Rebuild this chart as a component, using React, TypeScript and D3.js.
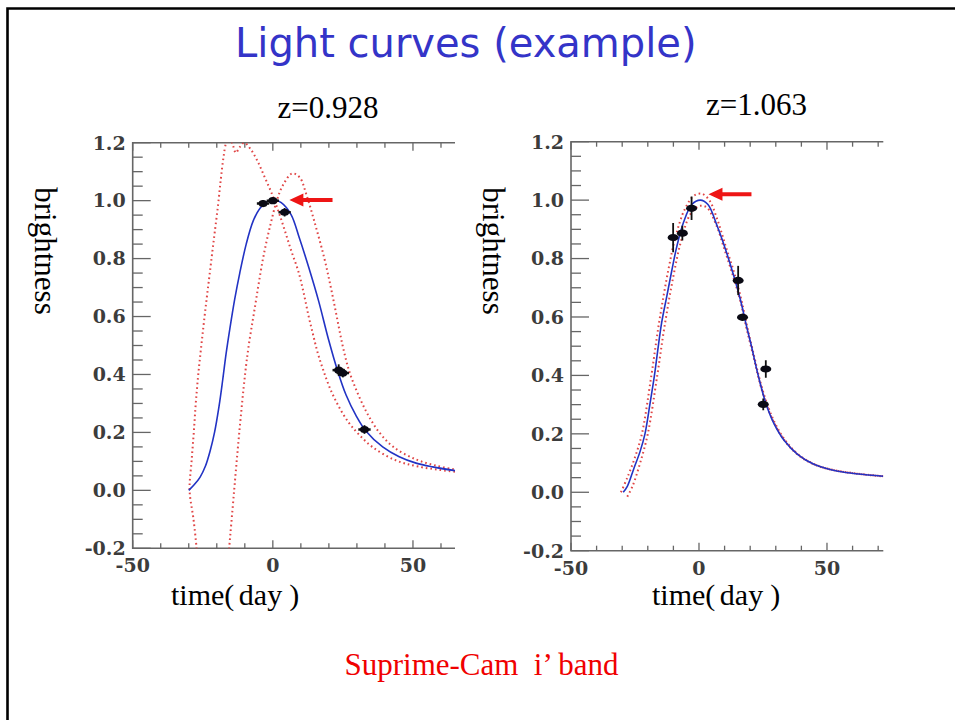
import React from "react";
import * as d3 from "d3";

// ---------- data (time in days, brightness normalised) ----------
// z = 0.928 panel
const P1_FIT: [number, number][] = [
  [-30, 0], [-28, 0.02], [-26, 0.045], [-24, 0.085], [-22.4, 0.135], [-20.8, 0.2],
  [-19.2, 0.29], [-17.9, 0.38], [-16.7, 0.47], [-15.3, 0.56], [-13.6, 0.66], [-11.8, 0.75],
  [-9.5, 0.85], [-7, 0.93], [-4.5, 0.975], [-2, 0.997], [0.3, 1.003], [3, 0.993],
  [6.5, 0.952], [9.5, 0.87], [12.8, 0.77], [16.3, 0.655], [19.9, 0.52], [23.2, 0.41],
  [26.1, 0.33], [29.7, 0.258], [33.2, 0.205], [39.2, 0.15], [45.1, 0.116], [51.1, 0.094],
  [57, 0.081], [65, 0.068],
];
const P1_BOUND_EARLY: [number, number][] = [
  [-26.8, -0.25], [-27.2, -0.2], [-28.3, -0.1], [-29.7, 0.0], [-29.0, 0.1], [-28.2, 0.2],
  [-27.5, 0.3], [-26.6, 0.4], [-25.4, 0.51], [-24, 0.63], [-22.5, 0.75], [-21, 0.87],
  [-19.6, 0.98], [-18.6, 1.07], [-17.6, 1.15], [-16.6, 1.2], [-15.4, 1.215], [-14.2, 1.19],
  [-13.2, 1.165], [-11.8, 1.185], [-10.2, 1.2], [-7.8, 1.176], [-5.4, 1.135], [-3, 1.083],
  [-0.6, 1.03], [1.9, 0.966], [4.3, 0.896], [6.6, 0.826], [9.1, 0.756], [10.9, 0.686],
  [12.7, 0.604], [14.3, 0.54], [16, 0.475], [18, 0.415], [20.5, 0.35], [23.5, 0.29],
  [27, 0.235], [30.5, 0.195], [35.5, 0.15], [43.5, 0.105], [52, 0.082], [65, 0.064],
];
const P1_BOUND_LATE: [number, number][] = [
  [-16.1, -0.25], [-15.6, -0.2], [-13.8, 0.0], [-12, 0.197], [-9.9, 0.401], [-8.6, 0.5],
  [-6.6, 0.62], [-3.5, 0.8], [-1.2, 0.903], [1.5, 1.003], [3.6, 1.053], [6.9, 1.094],
  [9.6, 1.08], [12, 1.02], [15.2, 0.915], [18.4, 0.8], [20.7, 0.7], [22.8, 0.6],
  [24.9, 0.5], [27.3, 0.41], [30.5, 0.33], [34, 0.26], [38, 0.2], [43, 0.15], [51, 0.107],
  [58.4, 0.085], [65, 0.072],
];
const P1_OBS_T = [-3.5, 0, 4.2, 23.5, 25, 32.7];
const P1_OBS_B = [0.99, 1.0, 0.96, 0.415, 0.405, 0.21];
const P1_OBS_ERR = [0.012, 0.012, 0.015, 0.02, 0.015, 0.015];

// z = 1.063 panel
const P2_FIT: [number, number][] = [
  [-29.6, 0], [-28, 0.02], [-25.5, 0.08], [-23, 0.14], [-21.1, 0.2], [-19.2, 0.3], [-17.4, 0.4],
  [-16.2, 0.48], [-14.6, 0.58], [-12.6, 0.67], [-10.6, 0.76], [-8.7, 0.84], [-6, 0.925],
  [-2.8, 0.985], [0.5, 1.0], [3.5, 0.985], [7, 0.914], [10.3, 0.833], [13.6, 0.74],
  [16.2, 0.658], [18.8, 0.56], [20.5, 0.5], [22.3, 0.43], [24, 0.37], [26.1, 0.305],
  [29.3, 0.235], [33.3, 0.177], [38.5, 0.13], [45.1, 0.095], [54.3, 0.072], [72, 0.055],
];
const P2_BOUND_UPPER: [number, number][] = [
  [-30.5, 0], [-28, 0.05], [-25, 0.12], [-22.3, 0.2], [-18.6, 0.4], [-15.6, 0.58],
  [-12, 0.76], [-9, 0.88], [-5.5, 0.97], [-2, 1.015], [1, 1.022], [4, 1.0], [7.3, 0.93],
  [10.5, 0.84], [13.8, 0.75], [16.5, 0.66], [19, 0.56], [21.7, 0.46], [23.6, 0.39],
  [26.3, 0.31], [29.5, 0.24], [33.5, 0.18], [38.7, 0.13], [45.3, 0.095], [54.5, 0.073], [72, 0.055],
];
const P2_BOUND_LOWER: [number, number][] = [
  [-28, -0.015], [-26, 0.02], [-23, 0.1], [-20, 0.2], [-16.3, 0.4], [-13.6, 0.56],
  [-10, 0.74], [-7, 0.86], [-3.5, 0.95], [0, 0.98], [3, 0.975], [6.5, 0.92], [10, 0.83],
  [13.3, 0.74], [16, 0.66], [18.6, 0.56], [21.4, 0.46], [23.3, 0.39], [26, 0.31],
  [29.2, 0.24], [33.2, 0.18], [38.4, 0.13], [45, 0.095], [54, 0.073], [72, 0.054],
];
const P2_OBS_T = [-10.1, -6.5, -2.9, 15.3, 17.0, 26.1, 25.1];
const P2_OBS_B = [0.872, 0.887, 0.972, 0.725, 0.599, 0.422, 0.301];
const P2_OBS_ERR = [0.05, 0.025, 0.04, 0.05, 0.012, 0.03, 0.02];

// peak-marker arrows: [tipT, tipB, tailT]
const P1_ARROW = [5.9, 1.002, 21.3];
const P2_ARROW = [3.7, 1.02, 20.5];

const Y_TICK_LABELS = ["-0.2", "0.0", "0.2", "0.4", "0.6", "0.8", "1.0", "1.2"];
const X_TICK_LABELS = ["-50", "0", "50"];
const PANEL_TITLES = ["z=0.928", "z=1.063"];
const TITLE = "Light curves (example)";
const FOOTNOTE = "Suprime-Cam  i\u2019 band";

// ---------- drawing ----------
type Panel = {
  id: string;
  x0: number; x1: number; y0: number; y1: number; // pixel box
  tMax: number;
  fit: [number, number][];
  bounds: [number, number][][];
  obsT: number[]; obsB: number[]; obsErr: number[];
  arrow: number[];
  dotRx: number;
  hbar: number;
};

const AXIS = "#666";
const LABEL = "#3c3c3c";
const BLUE = "#2233c4";
const RED_DOT = "#e04545";

function PanelView({ p }: { p: Panel }) {
  const x = d3.scaleLinear().domain([-50, p.tMax]).range([p.x0, p.x1]);
  const y = d3.scaleLinear().domain([-0.2, 1.2]).range([p.y1, p.y0]);
  const line = d3
    .line<[number, number]>()
    .x((d) => x(d[0]))
    .y((d) => y(d[1]))
    .curve(d3.curveCatmullRom.alpha(0.5));

  const xTicks = d3.range(-50, p.tMax + 0.001, 10);
  const yTicks = d3.range(-0.2, 1.2001, 0.05).map((v) => Math.round(v * 100) / 100);
  const isMajorY = (v: number) => Math.abs(Math.round(v * 10) % 2) === 0 && Math.abs(v * 10 - Math.round(v * 10)) < 1e-6;

  const [tipT, tipB, tailT] = p.arrow;
  const ax = x(tipT), ay = y(tipB), tx = x(tailT);

  return (
    <g>
      <defs>
        <clipPath id={"clip-" + p.id}>
          <rect x={p.x0} y={p.y0} width={p.x1 - p.x0} height={p.y1 - p.y0} />
        </clipPath>
      </defs>
      {/* axes lines: top, left, bottom */}
      <path
        d={`M${p.x1},${p.y0}H${p.x0}V${p.y1}H${p.x1}`}
        fill="none"
        stroke={AXIS}
        strokeWidth={1.6}
      />
      {xTicks.map((t) => {
        const major = t % 50 === 0;
        const len = major ? 8 : 5;
        return (
          <g key={"xt" + t} stroke={AXIS} strokeWidth={1.3}>
            <line x1={x(t)} x2={x(t)} y1={p.y1} y2={p.y1 - len} />
            <line x1={x(t)} x2={x(t)} y1={p.y0} y2={p.y0 + len} />
          </g>
        );
      })}
      {yTicks.map((v) => {
        const major = isMajorY(v);
        const len = major ? 18 : 10;
        return (
          <line
            key={"yt" + v}
            x1={p.x0}
            x2={p.x0 + len}
            y1={y(v)}
            y2={y(v)}
            stroke={AXIS}
            strokeWidth={1.3}
          />
        );
      })}
      {Y_TICK_LABELS.map((s) => (
        <text
          key={"yl" + s}
          x={p.x0 - 7}
          y={y(parseFloat(s))}
          dy="0.36em"
          textAnchor="end"
          fontFamily="DejaVu Serif"
          fontWeight="bold"
          fontSize={19}
          fill={LABEL}
        >
          {s}
        </text>
      ))}
      {X_TICK_LABELS.map((s) => (
        <text
          key={"xl" + s}
          x={x(parseFloat(s))}
          y={p.y1 + 24}
          textAnchor="middle"
          fontFamily="DejaVu Serif"
          fontWeight="bold"
          fontSize={19}
          fill={LABEL}
        >
          {s}
        </text>
      ))}
      <g clipPath={`url(#clip-${p.id})`}>
        {p.bounds.map((b, i) => (
          <path
            key={"b" + i}
            d={line(b) || ""}
            fill="none"
            stroke={RED_DOT}
            strokeWidth={2}
            strokeDasharray="1.6 3"
          />
        ))}
        <path d={line(p.fit) || ""} fill="none" stroke={BLUE} strokeWidth={1.6} />
        {p.obsT.map((t, i) => (
          <g key={"o" + i}>
            <line
              x1={x(t)}
              x2={x(t)}
              y1={y(p.obsB[i] - p.obsErr[i])}
              y2={y(p.obsB[i] + p.obsErr[i])}
              stroke="#111"
              strokeWidth={1.8}
            />
            <line
              x1={x(t - p.hbar)}
              x2={x(t + p.hbar)}
              y1={y(p.obsB[i])}
              y2={y(p.obsB[i])}
              stroke="#111"
              strokeWidth={2.5}
            />
            <ellipse cx={x(t)} cy={y(p.obsB[i])} rx={p.dotRx} ry={3.6} fill="#0a0a14" />
          </g>
        ))}
      </g>
      <path
        d={`M${ax},${ay}L${ax + 14},${ay - 6.5}L${ax + 14},${ay - 2}L${tx},${ay - 2}L${tx},${ay + 2}L${ax + 14},${ay + 2}L${ax + 14},${ay + 6.5}Z`}
        fill="#ee1515"
      />
    </g>
  );
}

export default function App() {
  const panels: Panel[] = [
    {
      id: "p1", x0: 132.7, x1: 455, y0: 142.7, y1: 548.3, tMax: 65,
      fit: P1_FIT, bounds: [P1_BOUND_EARLY, P1_BOUND_LATE],
      obsT: P1_OBS_T, obsB: P1_OBS_B, obsErr: P1_OBS_ERR, arrow: P1_ARROW, dotRx: 4.5, hbar: 2.2,
    },
    {
      id: "p2", x0: 571, x1: 883.3, y0: 141.7, y1: 550.7, tMax: 72,
      fit: P2_FIT, bounds: [P2_BOUND_UPPER, P2_BOUND_LOWER],
      obsT: P2_OBS_T, obsB: P2_OBS_B, obsErr: P2_OBS_ERR, arrow: P2_ARROW, dotRx: 5.5, hbar: 0,
    },
  ];

  return (
    <svg
      width={955}
      height={720}
      style={{ position: "absolute", left: 0, top: 0, background: "#fff" }}
    >
      <rect x={0} y={0} width={955} height={720} fill="#fff" />
      <path d="M7.5,720V8.5H955" fill="none" stroke="#000" strokeWidth={2.6} />
      <text x={235} y={57} fontFamily="DejaVu Sans" fontSize={40} fill="#3434c8">
        {TITLE}
      </text>
      <text x={328} y={118} textAnchor="middle" fontFamily="Liberation Serif" fontSize={31} fill="#000">
        {PANEL_TITLES[0]}
      </text>
      <text x={756.5} y={115} textAnchor="middle" fontFamily="Liberation Serif" fontSize={31} fill="#000">
        {PANEL_TITLES[1]}
      </text>
      {[35, 483].map((bx, i) => (
        <text
          key={"yl" + i}
          transform={`translate(${bx},251) rotate(90)`}
          textAnchor="middle"
          fontFamily="Liberation Serif"
          fontSize={31}
          fill="#000"
        >
          brightness
        </text>
      ))}
      {[171, 652].map((lx, i) => (
        <text key={"xl" + i} x={lx} y={605} fontFamily="Liberation Serif" fontSize={30} fill="#000">
          time<tspan>(</tspan>
          <tspan dx={4.5}>day</tspan>
          <tspan dx={7}>)</tspan>
        </text>
      ))}
      {panels.map((p) => (
        <PanelView key={p.id} p={p} />
      ))}
      <text
        x={481.5}
        y={675}
        textAnchor="middle"
        fontFamily="Liberation Serif"
        fontSize={31}
        fill="#f00000"
        style={{ whiteSpace: "pre" }}
      >
        {FOOTNOTE}
      </text>
    </svg>
  );
}
